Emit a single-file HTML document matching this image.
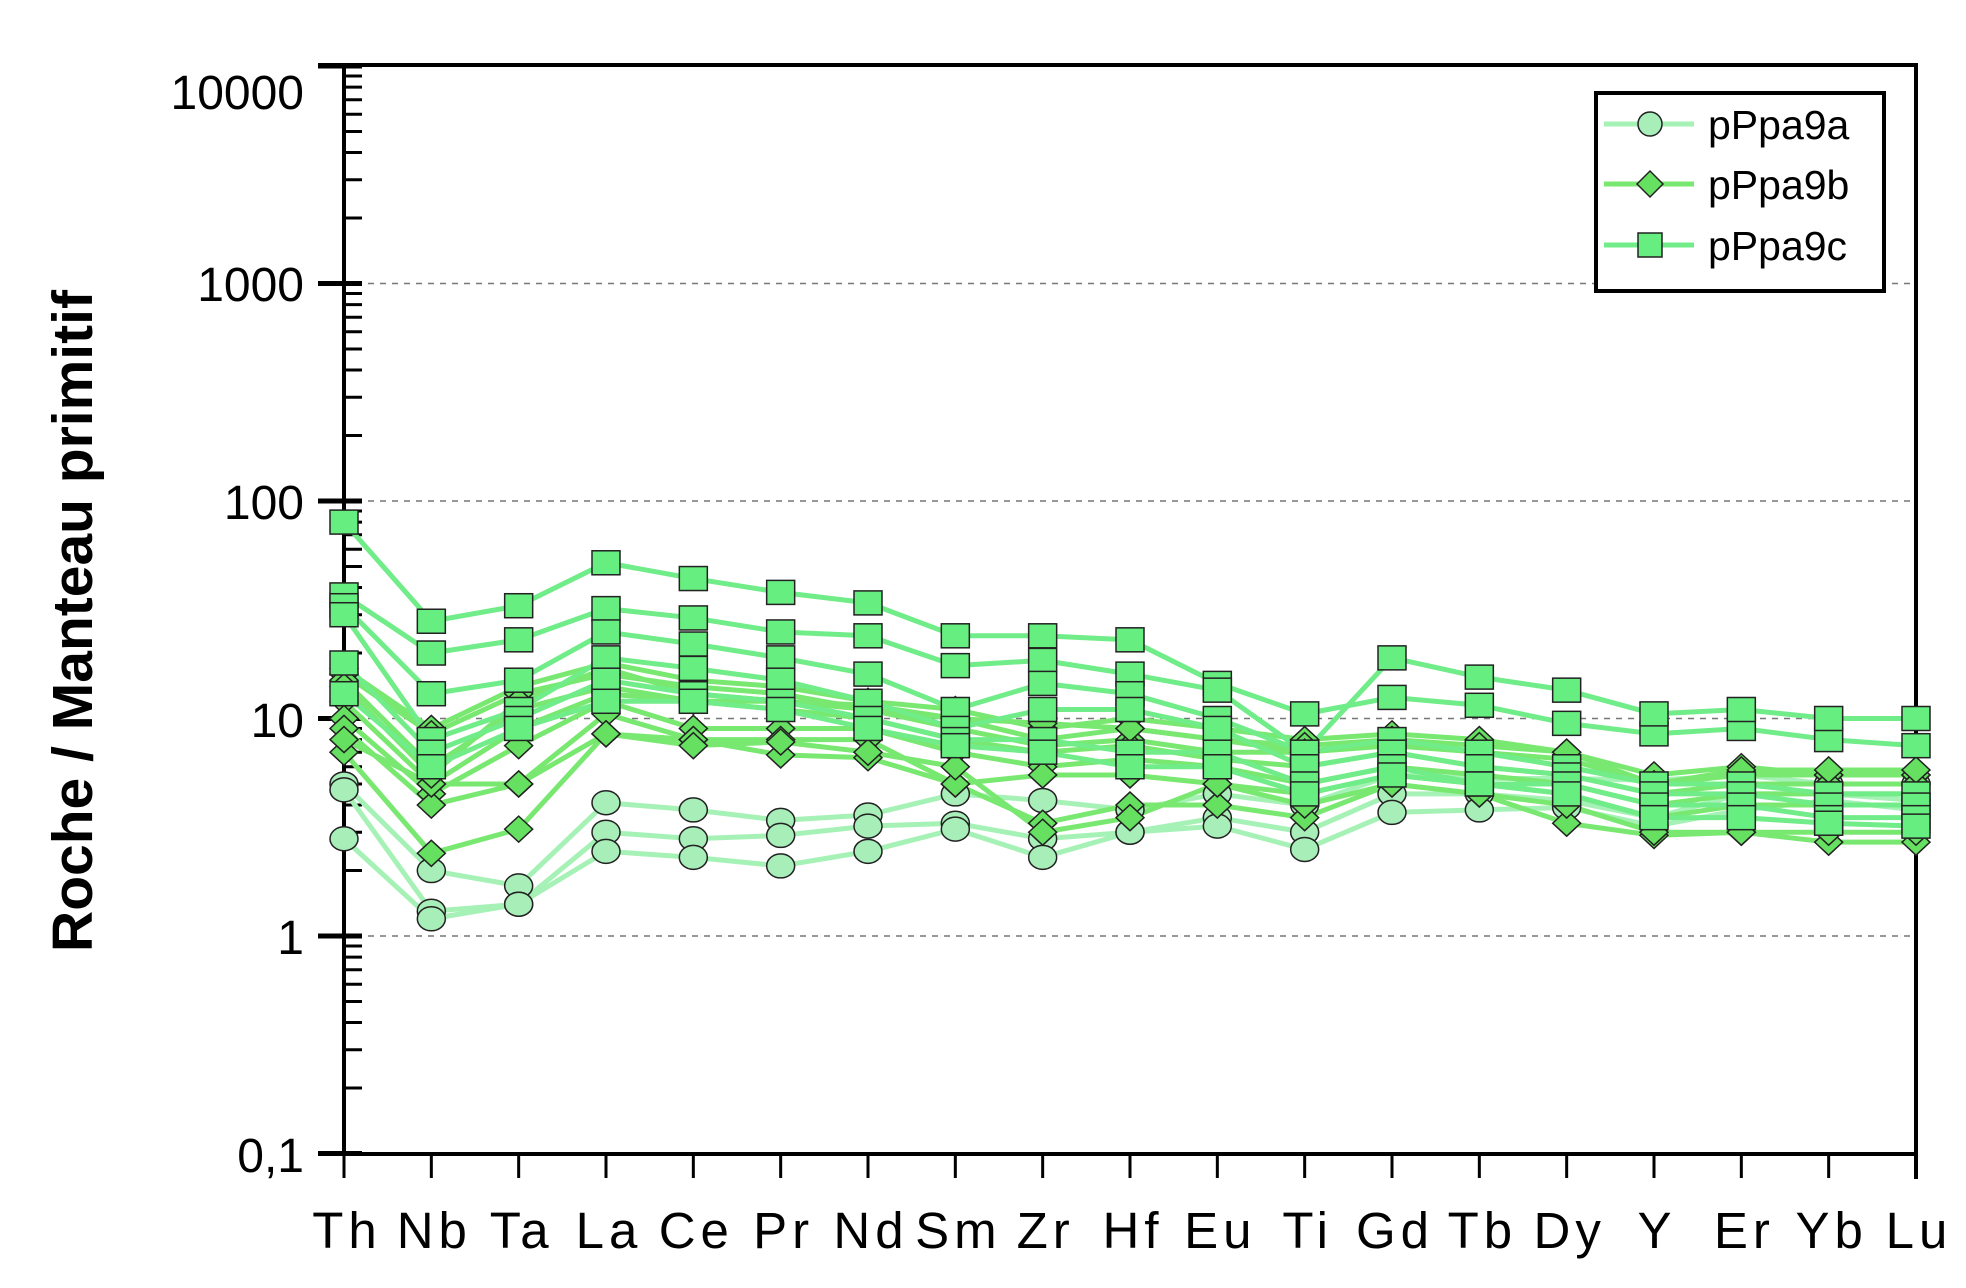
<!DOCTYPE html>
<html><head><meta charset="utf-8"><style>
html,body{margin:0;padding:0;background:#fff;}
svg{display:block;}
text{font-family:"Liberation Sans",sans-serif;}
</style></head><body>
<svg id="c" width="1966" height="1288" viewBox="0 0 1966 1288" xmlns="http://www.w3.org/2000/svg">
<rect width="1966" height="1288" fill="#fff"/>
<g id="grid" stroke="#777" stroke-width="1.5" stroke-dasharray="6,6"></g>
<g id="axes" stroke="#000" stroke-width="4" fill="none">
<line x1="318" y1="65" x2="1918" y2="65"/>
<line x1="344" y1="65" x2="344" y2="1154"/>
<line x1="1916" y1="65" x2="1916" y2="1179"/>
<line x1="318" y1="1154" x2="1918" y2="1154"/>
</g>
<g id="ticks" stroke="#000" stroke-width="3"></g>
<g font-size="48" text-anchor="end" fill="#000">
<text x="304" y="109">10000</text>
<text x="304" y="301">1000</text>
<text x="304" y="519">100</text>
<text x="304" y="737">10</text>
<text x="304" y="954">1</text>
<text x="304" y="1172">0,1</text>
</g>
<text transform="translate(92,621) rotate(-90)" font-size="57" font-weight="bold" text-anchor="middle">Roche / Manteau primitif</text>
<g id="xl" font-size="51" text-anchor="middle" letter-spacing="5"></g>
<g id="series"></g>
<g>
<rect x="1596" y="93" width="288" height="198" fill="#fff" stroke="#000" stroke-width="4"/>
<line x1="1604" y1="124" x2="1694" y2="124" stroke="#a6f2b6" stroke-width="5"/>
<circle cx="1650" cy="124" r="12" fill="#a8eeb8" stroke="#222" stroke-width="1.5"/>
<line x1="1604" y1="184" x2="1694" y2="184" stroke="#78e870" stroke-width="5"/>
<polygon points="1650,171 1663,184 1650,197 1637,184" fill="#66e060" stroke="#222" stroke-width="1.5"/>
<line x1="1604" y1="245" x2="1694" y2="245" stroke="#70ec88" stroke-width="5"/>
<rect x="1638" y="233" width="24" height="24" fill="#66ee80" stroke="#222" stroke-width="1.5"/>
<text x="1708" y="139" font-size="41">pPpa9a</text>
<text x="1708" y="199" font-size="41">pPpa9b</text>
<text x="1708" y="260" font-size="41">pPpa9c</text>
</g>
</svg>
<script>
var NS="http://www.w3.org/2000/svg";
function el(p,t,a){var e=document.createElementNS(NS,t);for(var k in a)e.setAttribute(k,a[k]);p.appendChild(e);return e;}
var L=344,R=1916,B=1154;
function Y(v){return 66+(4-Math.log10(v))*217.5;}
function X(i){return L+i*(R-L)/18;}
var g=document.getElementById('grid');
[1000,100,10,1].forEach(function(v){el(g,'line',{x1:L,x2:R,y1:Y(v),y2:Y(v)});});
var t=document.getElementById('ticks');
for(var d=-1;d<4;d++){for(var m=1;m<10;m++){var v=m*Math.pow(10,d);var y=Y(v);
 if(m==1){el(t,'line',{x1:318,x2:362,y1:y,y2:y,'stroke-width':5});}
 else el(t,'line',{x1:344,x2:362,y1:y,y2:y});}}
el(t,'line',{x1:318,x2:362,y1:Y(10000),y2:Y(10000),'stroke-width':5});
var labs="Th Nb Ta La Ce Pr Nd Sm Zr Hf Eu Ti Gd Tb Dy Y Er Yb Lu".split(" ");
var xl=document.getElementById('xl');
labs.forEach(function(s,i){el(t,'line',{x1:X(i),x2:X(i),y1:B,y2:B+24});var e=el(xl,'text',{x:X(i)+3,y:1248});e.textContent=s;});
var S=[[80,28,33,52,44,38,34,24,24,23,14.5,10.5,12.5,11.5,9.5,8.5,9,8,7.5],
[37,20,23,32,29,25,24,17.5,18.5,16,13.5,7,19,15.5,13.5,10.5,11,10,10],
[33,13,15,25,22,19,16,11,14.5,13,10,7,8,7,6,5,5,4.5,4.5],
[30,8,11,19,17,15,12,9,11,11,9,6,7,6,5.5,4.5,4.5,4,4],
[18,7,10,15,13,12,10,8,8,7,7,5,6,5,5,4,4,3.5,3.5],
[13,6,9,12,12,11,9,7.5,7,6,6,4.5,5.5,5,4.5,3.5,3.5,3.3,3.2]];
var D=[[17,9,14,18,15,14,12,11,9,10,9,8,8.5,8,7,5.5,6,5.5,5.5],
[16,8.5,13,16,14,13,11,10,8,9,8,7.5,8,7,6.5,5,5.5,5.5,5.5],
[15,6,11,14,12,12,11,9,7.5,8,7,7,7.5,7,6,5,5,5,5],
[12,5,9,13,12,11,10,8,7,7.5,6.5,6,7,6,5.5,4.5,5,5,5],
[10,4.5,7.5,12,9,9,9,7,6,6.5,6,5,6,5.5,5,4,4.5,4.5,4.5],
[9,4,5,10.5,8,8,8,5,5.5,5.5,5,4.5,5.5,5,4.5,3.5,4,4,4],
[7,2.4,3.1,8.5,8,6.8,6.6,5,3.3,4,4,3.5,5,4.5,3.3,2.9,3,2.7,2.7],
[8,5,5,8.5,7.5,7.8,7,6,3,3.5,5,4,5,4.5,4,3,3,3,3],
[14,5.5,12,17,13,12,11.5,10,9.5,9,8,7,8,7.5,7,5,5.8,5.8,5.8]];
var C=[[5,2,1.7,4.1,3.8,3.4,3.6,4.5,4.2,3.8,4.5,4,5.5,5.3,5.3,5.2,5.5,5,5],
[4.7,1.3,1.4,3,2.8,2.9,3.2,3.3,2.8,3,3.5,3,4.5,4.5,4.2,3.5,4.5,4.5,4.2],
[2.8,1.2,1.4,2.45,2.3,2.1,2.45,3.1,2.3,3,3.2,2.5,3.7,3.8,3.9,3.2,3.8,4.2,3.8]];
var sg=document.getElementById('series');
function line(d,col){el(sg,'polyline',{points:d.map(function(v,i){return X(i)+','+Y(v);}).join(' '),fill:'none',stroke:col,'stroke-width':5,'stroke-linejoin':'round'});}
C.forEach(function(d){line(d,'#a6f2b6');});
D.forEach(function(d){line(d,'#78e870');});
S.forEach(function(d){line(d,'#70ec88');});
C.forEach(function(d){d.forEach(function(v,i){el(sg,'ellipse',{cx:X(i),cy:Y(v),rx:14,ry:12,fill:'#a8eeb8',stroke:'#222','stroke-width':1.5});});});
D.forEach(function(d){d.forEach(function(v,i){var x=X(i),y=Y(v);el(sg,'polygon',{points:(x)+','+(y-13)+' '+(x+14)+','+y+' '+x+','+(y+13)+' '+(x-14)+','+y,fill:'#66e060',stroke:'#222','stroke-width':1.5});});});
S.forEach(function(d){d.forEach(function(v,i){el(sg,'rect',{x:X(i)-14,y:Y(v)-12,width:28,height:24,fill:'#66ee80',stroke:'#222','stroke-width':1.5});});});
</script>
</body></html>
